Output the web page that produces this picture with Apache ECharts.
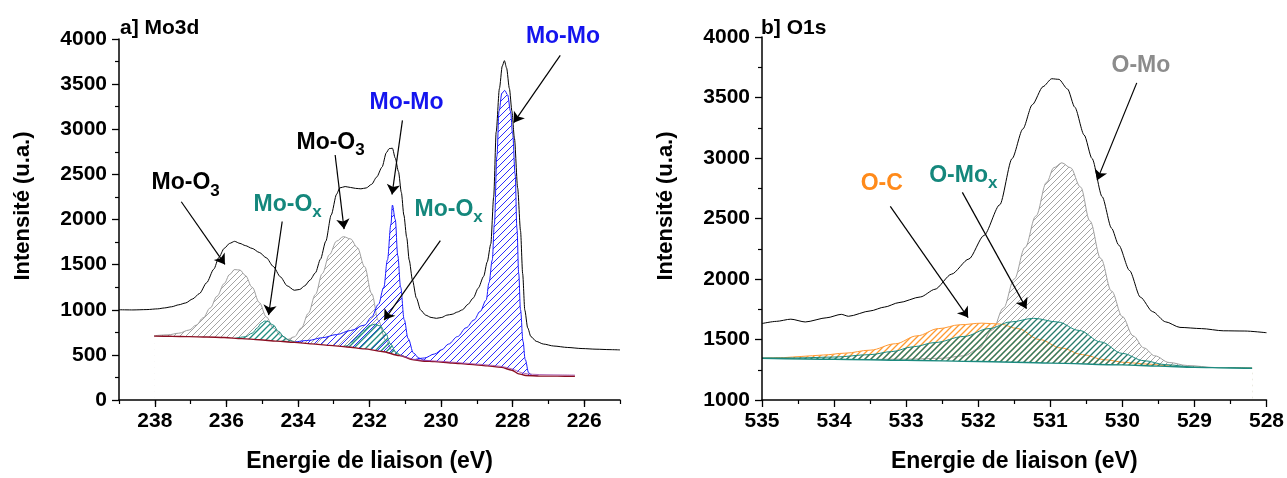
<!DOCTYPE html>
<html><head><meta charset="utf-8">
<script src="https://cdn.jsdelivr.net/npm/echarts@6/dist/echarts.min.js"></script>
<style>html,body{margin:0;padding:0;background:#fff}#c{width:1287px;height:478px}</style>
</head><body><div id="c"></div>
<script>
// ---------------- DATA ----------------
// Panel a] Mo3d  ([binding energy eV, intensity])
const moTicks = [238, 236, 234, 232, 230, 228, 226];
const moEnvelope = [[239,1000],[238.61,998],[238.22,1002],[237.92,1010],[237.73,1020],[237.53,1033],[237.33,1055],[237.14,1075],[236.94,1120],[236.75,1180],[236.55,1300],[236.35,1450],[236.21,1580],[236.06,1680],[235.91,1735],[235.77,1758],[235.62,1735],[235.47,1711],[235.28,1680],[235.08,1635],[234.88,1575],[234.69,1480],[234.49,1365],[234.3,1265],[234.1,1216],[233.95,1225],[233.81,1265],[233.66,1330],[233.51,1410],[233.37,1560],[233.22,1760],[233.07,2050],[232.92,2280],[232.83,2350],[232.68,2365],[232.53,2355],[232.39,2345],[232.24,2340],[232.09,2350],[231.94,2390],[231.8,2470],[231.65,2580],[231.53,2740],[231.45,2785],[231.36,2790],[231.28,2680],[231.19,2530],[231.11,2300],[231.04,2050],[230.96,1800],[230.89,1550],[230.8,1330],[230.69,1130],[230.57,996],[230.43,940],[230.28,915],[230.13,905],[229.98,915],[229.84,940],[229.69,950],[229.54,975],[229.4,1000],[229.25,1060],[229.1,1130],[228.96,1240],[228.81,1370],[228.71,1530],[228.61,1730],[228.53,2250],[228.46,2970],[228.37,3450],[228.29,3700],[228.23,3760],[228.17,3680],[228.09,3450],[228.02,3200],[227.95,2900],[227.86,2350],[227.78,1876],[227.72,1400],[227.66,996],[227.58,800],[227.49,703],[227.34,650],[227.14,620],[226.85,598],[226.46,582],[226.06,570],[225.67,563],[225.28,558],[225.0,555]];
const moBaseline = [[238.02,708],[237.53,706],[237.04,702],[236.55,698],[236.06,692],[235.57,680],[235.08,668],[234.59,652],[234.1,638],[233.61,622],[233.12,605],[232.63,588],[232.14,566],[231.65,538],[231.16,492],[230.77,445],[230.47,430],[230.18,425],[229.69,410],[229.2,395],[228.71,378],[228.32,362],[228.02,330],[227.83,290],[227.63,272],[227.24,265],[226.75,264],[226.26,263]];
const moFitSum = [[231.16,500],[230.77,452],[230.38,438],[229.98,428],[229.4,410],[228.81,392],[228.32,372],[228.02,345],[227.73,300],[227.44,285],[227.04,280],[226.65,278],[226.26,276]];
const moO3a = [[238.02,712],[237.63,722],[237.33,740],[237.04,775],[236.84,830],[236.65,910],[236.45,1020],[236.26,1150],[236.06,1290],[235.91,1390],[235.77,1445],[235.62,1440],[235.47,1380],[235.28,1250],[235.08,1080],[234.88,920],[234.69,800],[234.49,720],[234.3,675],[234.1,648],[233.9,635]];
const moOxa = [[235.77,682],[235.47,700],[235.28,740],[235.13,800],[235.03,850],[234.93,875],[234.84,870],[234.69,830],[234.54,760],[234.39,700],[234.25,660],[234.1,642]];
const moO3b = [[234.49,648],[234.3,668],[234.1,700],[233.9,800],[233.71,960],[233.51,1170],[233.32,1400],[233.12,1610],[232.92,1760],[232.73,1810],[232.53,1785],[232.34,1690],[232.14,1480],[231.94,1180],[231.75,880],[231.55,660],[231.36,545],[231.16,500],[230.96,470]];
const moMoa = [[234.1,640],[233.71,660],[233.32,690],[232.92,725],[232.53,770],[232.14,830],[231.94,920],[231.75,1060],[231.6,1250],[231.5,1550],[231.4,1950],[231.36,2160],[231.28,2000],[231.21,1600],[231.13,1250],[231.03,890],[230.92,680],[230.77,520],[230.62,465],[230.47,440],[230.28,428]];
const moOxb = [[232.83,585],[232.63,600],[232.5,640],[232.34,700],[232.16,770],[231.99,825],[231.85,840],[231.7,820],[231.55,740],[231.41,620],[231.26,530],[231.11,490],[230.96,470]];
const moMob = [[230.77,445],[230.47,465],[230.18,510],[229.98,557],[229.79,620],[229.54,703],[229.3,800],[229.08,886],[228.91,980],[228.74,1106],[228.66,1300],[228.57,1550],[228.51,1950],[228.44,2700],[228.38,3200],[228.3,3400],[228.22,3430],[228.14,3380],[228.06,3200],[228.0,2950],[227.93,2500],[227.88,1900],[227.83,1400],[227.78,1000],[227.71,650],[227.65,450],[227.55,300],[227.44,268],[227.29,265]];
// annotation anchors (label left edge / text centre) and arrows, panel a
const moLabels = [
  {main:'Mo-O', sub:'3', x:238.09, y:2405, kind:'black'},
  {main:'Mo-O', sub:'x', x:235.24, y:2168, kind:'teal'},
  {main:'Mo-O', sub:'3', x:234.04, y:2854, kind:'black'},
  {main:'Mo-Mo', sub:'', x:232.0, y:3299, kind:'blue'},
  {main:'Mo-O', sub:'x', x:230.74, y:2113, kind:'teal'},
  {main:'Mo-Mo', sub:'', x:227.63, y:4026, kind:'blue'}
];
const moArrows = [
  [[237.26,2197],[236.04,1502]],
  [[234.44,1978],[234.82,941]],
  [[232.96,2715],[232.71,1894]],
  [[231.08,3099],[231.37,2277]],
  [[230.02,1766],[231.59,886]],
  [[226.67,3818],[227.97,3073]]
];

// Panel b] O1s
const oEnvelope = [[535,1632],[534.8,1650],[534.6,1668],[534.4,1645],[534.1,1680],[533.9,1708],[533.8,1692],[533.5,1736],[533.3,1768],[533.1,1805],[532.8,1852],[532.6,1915],[532.37,2040],[532.13,2165],[531.92,2360],[531.7,2614],[531.53,2995],[531.38,3240],[531.25,3440],[531.1,3590],[530.98,3655],[530.88,3650],[530.76,3570],[530.66,3420],[530.53,3190],[530.42,2995],[530.28,2680],[530.15,2420],[530.05,2280],[529.9,2070],[529.75,1850],[529.58,1730],[529.4,1646],[529.2,1600],[528.9,1590],[528.6,1572],[528.3,1570],[528.0,1556]];
const oBaseline = [[535,1345],[534,1337],[533,1328],[532,1318],[531,1305],[530,1290],[529.5,1280],[529,1270],[528.5,1265],[528.2,1262]];
const oC = [[535,1346],[534.7,1350],[534.45,1360],[534.15,1372],[533.85,1387],[533.5,1412],[533.15,1465],[532.85,1530],[532.55,1590],[532.25,1622],[531.95,1635],[531.7,1628],[531.45,1590],[531.15,1500],[530.85,1430],[530.55,1375],[530.25,1333],[529.95,1310],[529.65,1297],[529.35,1282],[529.05,1270],[528.6,1266],[528.2,1263]];
const oMox = [[535,1346],[534.5,1348],[534.0,1355],[533.5,1375],[533.2,1400],[532.9,1440],[532.6,1475],[532.2,1525],[531.85,1590],[531.55,1645],[531.23,1675],[530.9,1645],[530.6,1575],[530.3,1480],[530.0,1385],[529.7,1325],[529.4,1292],[529.0,1272],[528.6,1266],[528.2,1263]];
const oMo = [[533.5,1335],[533.0,1338],[532.5,1345],[532.2,1365],[532.0,1420],[531.8,1580],[531.65,1760],[531.5,2000],[531.35,2260],[531.2,2520],[531.05,2800],[530.95,2920],[530.84,2960],[530.72,2920],[530.58,2760],[530.45,2480],[530.3,2170],[530.15,1900],[530.0,1690],[529.85,1530],[529.7,1430],[529.55,1365],[529.35,1310],[529.1,1285],[528.7,1268],[528.2,1263]];
const oLabels = [
  {main:'O-Mo', sub:'', x:530.15, y:3764, kind:'gray'},
  {main:'O-Mo', sub:'x', x:532.68, y:2857, kind:'teal'},
  {main:'O-C', sub:'', x:533.63, y:2790, kind:'orange'}
];
const oArrows = [
  [[529.8,3621],[530.35,2817]],
  [[532.22,2716],[531.33,1755]],
  [[533.22,2600],[532.14,1681]]
];

// ---------------- STYLE ----------------
const FONT = '"Liberation Sans", Arial, sans-serif';
const C = {black:'#000000', blue:'#1a1aff', teal:'#1b8a7f', gray:'#a0a0a0', orange:'#ff9933'};
const TXT = {black:'#000000', blue:'#1414ee', teal:'#14877c', gray:'#8c8c8c', orange:'#ff8a1a'};

function hatch(color, s, lw) {
  const c = document.createElement('canvas');
  c.width = s; c.height = s;
  const g = c.getContext('2d');
  g.strokeStyle = color; g.lineWidth = lw;
  g.beginPath();
  g.moveTo(0, s); g.lineTo(s, 0);
  g.moveTo(-s, s); g.lineTo(s, -s);
  g.moveTo(0, 2*s); g.lineTo(2*s, 0);
  g.stroke();
  return {image: c, repeat: 'repeat'};
}

function comp(data, color, hcol, step, lw, xi, yi, z) {
  return {type:'line', data, xAxisIndex:xi, yAxisIndex:yi, symbol:'none', smooth:0.35, smoothMonotone:'x',
    lineStyle:{color, width:1}, areaStyle:{color:hatch(hcol, step, lw), origin:'start', opacity:1},
    z, silent:true};
}
function mask(data, color, xi, yi) {
  return {type:'line', data, xAxisIndex:xi, yAxisIndex:yi, symbol:'none', smooth:0.3, smoothMonotone:'x',
    lineStyle:{color, width:1.4}, areaStyle:{color:'#ffffff', origin:'start', opacity:1}, z:5, silent:true};
}
function arrows(list) {
  return {silent:true, symbol:['none','arrow'], symbolSize:10, animation:false,
    lineStyle:{color:'#000', width:1.2, type:'solid'}, label:{show:false},
    itemStyle:{color:'#000'},
    emphasis:{disabled:true},
    data: list.map(a => [{coord:a[0]}, {coord:a[1]}])};
}

const tickLbl = {fontSize:21, fontWeight:'bold', color:'#000', fontFamily:FONT};
const nameTxt = {fontSize:23, fontWeight:'bold', color:'#000', fontFamily:FONT};
const axLine = {show:true, lineStyle:{color:'#000', width:1.5}};
const tk = {show:true, length:7, lineStyle:{color:'#000', width:1.3}};
const mtk = {show:true, splitNumber:2, length:4, lineStyle:{color:'#000', width:1.2}};

const option = {
  animation:false,
  backgroundColor:'#fff',
  grid:[
    {left:119, top:39, width:501, height:365},
    {left:762, top:37, width:506, height:367}
  ],
  xAxis:[
    {gridIndex:0, type:'value', position:'bottom', min:225, max:239, interval:1, inverse:true, z:10,
      axisLine:axLine, axisTick:{show:true, length:4, lineStyle:{color:'#000', width:1.2}},
      axisLabel:{show:false}, splitLine:{show:false}},
    {gridIndex:0, type:'value', position:'bottom', min:225, max:239, interval:1, inverse:true, z:10,
      axisLine:{show:false}, axisTick:{show:true, length:7, customValues:moTicks, lineStyle:{color:'#000', width:1.3}},
      axisLabel:Object.assign({customValues:moTicks, margin:11}, tickLbl), splitLine:{show:false},
      name:'Energie de liaison (eV)', nameLocation:'middle', nameGap:50, nameTextStyle:nameTxt},
    {gridIndex:1, type:'value', position:'bottom', min:528, max:535, interval:1, inverse:true, z:10,
      axisLine:axLine, axisTick:tk, minorTick:mtk, axisLabel:Object.assign({margin:11}, tickLbl), splitLine:{show:false},
      name:'Energie de liaison (eV)', nameLocation:'middle', nameGap:50, nameTextStyle:nameTxt}
  ],
  yAxis:[
    {gridIndex:0, type:'value', min:0, max:4000, interval:500, z:10,
      axisLine:axLine, axisTick:tk, minorTick:mtk, splitLine:{show:false},
      axisLabel:Object.assign({margin:12, formatter:v => String(v)}, tickLbl)},
    {gridIndex:1, type:'value', min:1000, max:4000, interval:500, z:10,
      axisLine:axLine, axisTick:tk, minorTick:mtk, splitLine:{show:false},
      axisLabel:Object.assign({margin:12, formatter:v => String(v)}, tickLbl)}
  ],
  series:[
    comp(moO3a, C.gray, '#a4a4a4', 6, 1, 0, 0, 2),
    comp(moO3b, C.gray, '#a4a4a4', 6, 1, 0, 0, 2),
    comp(moMoa, C.blue, '#2b2bff', 7, 1, 0, 0, 2.2),
    comp(moMob, C.blue, '#2b2bff', 7, 1, 0, 0, 2.2),
    comp(moOxa, C.teal, '#1f8c80', 6, 1.3, 0, 0, 2.4),
    comp(moOxb, C.teal, '#1f8c80', 6, 1.3, 0, 0, 2.4),
    mask(moBaseline, '#8b0f22', 0, 0),
    {type:'line', data:moFitSum, xAxisIndex:0, yAxisIndex:0, symbol:'none', smooth:0.3,
      lineStyle:{color:'#a04aa8', width:1, opacity:0.8}, z:6, silent:true},
    {type:'line', data:moEnvelope, xAxisIndex:0, yAxisIndex:0, symbol:'none', smooth:0.25, smoothMonotone:'x',
      lineStyle:{color:'#000', width:1}, itemStyle:{color:'#000'}, z:7, silent:true, markLine:arrows(moArrows)},

    comp(oMo, C.gray, '#a4a4a4', 6, 1, 2, 1, 2),
    comp(oC, C.orange, '#ff9a2e', 6, 1.3, 2, 1, 2.2),
    comp(oMox, C.teal, '#257a6a', 6, 1.3, 2, 1, 2.4),
    mask(oBaseline, C.teal, 2, 1),
    {type:'line', data:oEnvelope, xAxisIndex:2, yAxisIndex:1, symbol:'none', smooth:0.25, smoothMonotone:'x',
      lineStyle:{color:'#000', width:1}, itemStyle:{color:'#000'}, z:7, silent:true, markLine:arrows(oArrows)}
  ]
};

const chart = echarts.init(document.getElementById('c'), null, {renderer:'canvas'});
chart.setOption(option);

function labelGraphics(list, xi, yi) {
  return list.map(a => {
    const p = chart.convertToPixel({xAxisIndex:xi, yAxisIndex:yi}, [a.x, a.y]);
    const col = TXT[a.kind];
    const rich = {
      m:{fontSize:23, fontWeight:'bold', fontFamily:FONT, fill:col, color:col, lineHeight:23, verticalAlign:'top'},
      s:{fontSize:17, fontWeight:'bold', fontFamily:FONT, fill:col, color:col, lineHeight:39}
    };
    const text = a.sub ? '{m|' + a.main + '}{s|' + a.sub + '}' : '{m|' + a.main + '}';
    return {type:'text', x:p[0], y:p[1] - 11.5, z:50, silent:true,
      style:{text, rich, align:'left', verticalAlign:'top'}};
  });
}
const yName = 'Intensité (u.a.)';
const graphics = [].concat(
  labelGraphics(moLabels, 0, 0),
  labelGraphics(oLabels, 2, 1),
  [
    {type:'text', x:120, y:18, z:50, silent:true, style:{text:'a] Mo3d', font:'bold 21px ' + FONT, fill:'#000'}},
    {type:'text', x:761, y:18, z:50, silent:true, style:{text:'b] O1s', font:'bold 21px ' + FONT, fill:'#000'}},
    {type:'text', x:23, y:206, rotation:Math.PI/2, z:50, silent:true,
      style:{text:yName, font:'bold 22px ' + FONT, fill:'#000', align:'center', verticalAlign:'middle'}},
    {type:'text', x:666, y:206, rotation:Math.PI/2, z:50, silent:true,
      style:{text:yName, font:'bold 22px ' + FONT, fill:'#000', align:'center', verticalAlign:'middle'}}
  ]
);
chart.setOption({graphic: graphics});
</script>
</body></html>
